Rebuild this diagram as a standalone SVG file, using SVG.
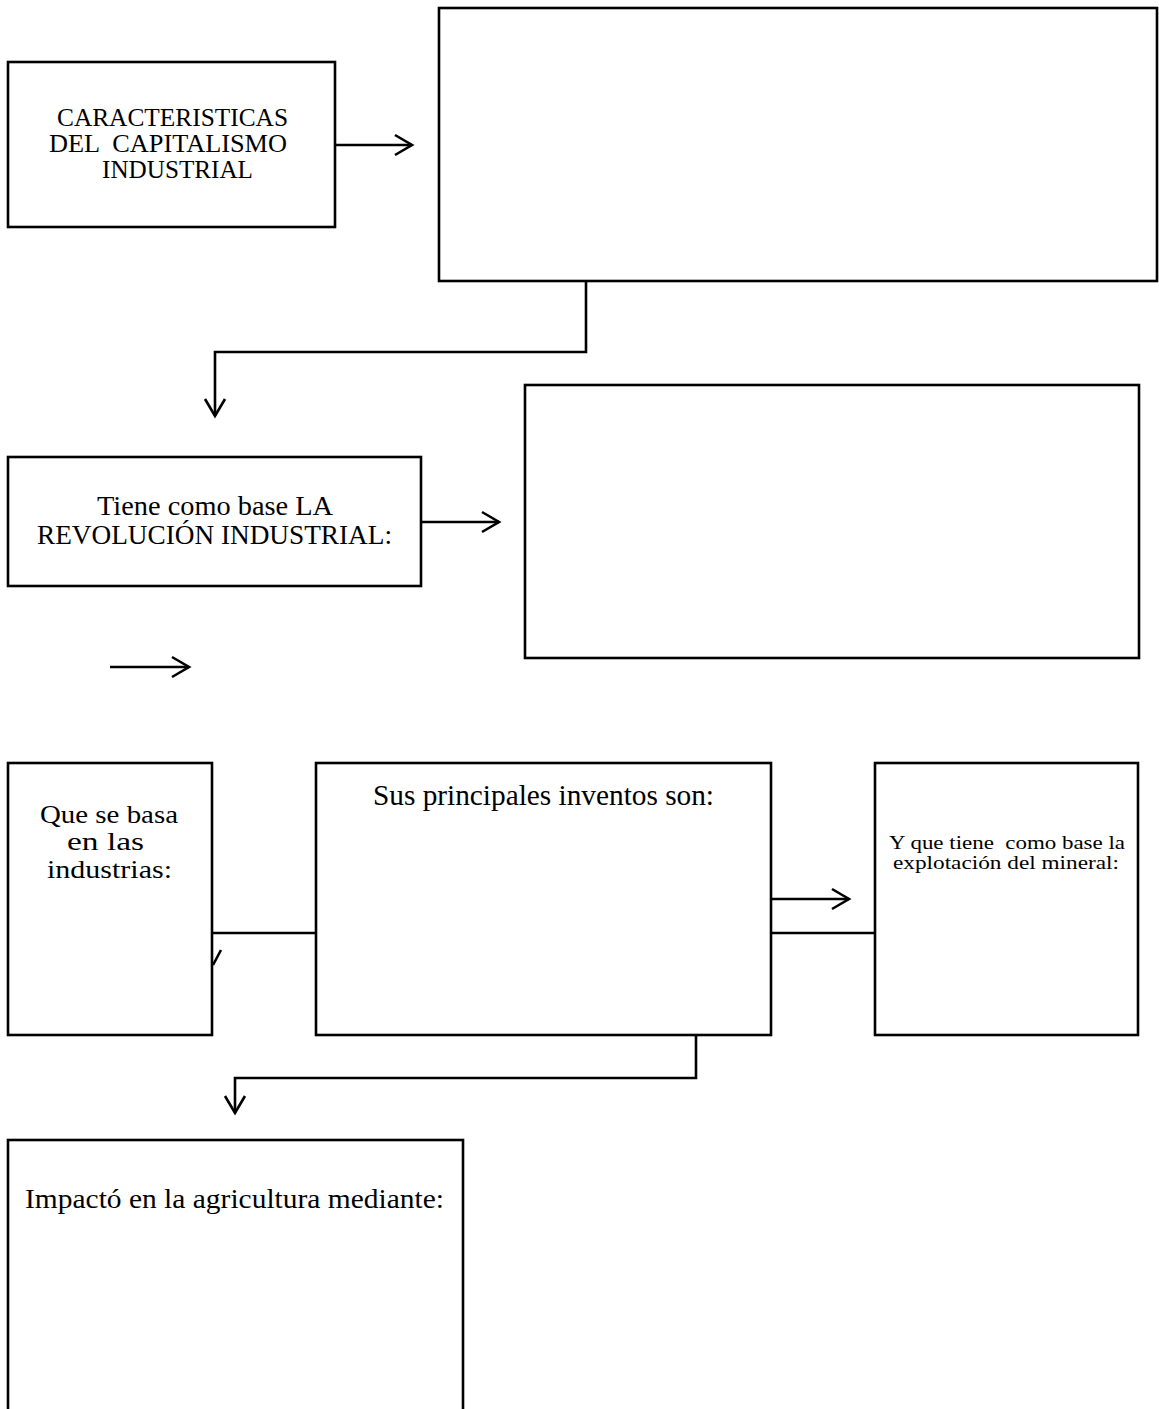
<svg xmlns="http://www.w3.org/2000/svg" width="1159" height="1409" viewBox="0 0 1159 1409">
<style>
.box{fill:#fff;stroke:#000;stroke-width:2.6}
.c{fill:none;stroke:#000;stroke-width:2.6}
text{fill:#000}
</style>
<defs>
<marker id="ah" markerUnits="userSpaceOnUse" markerWidth="40" markerHeight="40" viewBox="-20 -20 40 40" refX="0" refY="0" orient="auto">
<path d="M-17,-10 L0,0 L-17,10" fill="none" stroke="#000" stroke-width="2.6"/>
</marker>
</defs>
<rect width="1159" height="1409" fill="#fff"/>
<g id="connectors">
<line class="c" x1="335" y1="145" x2="412" y2="145" marker-end="url(#ah)"/>
<path class="c" d="M586,281 V352 H215 V416" marker-end="url(#ah)"/>
<line class="c" x1="421" y1="522" x2="499" y2="522" marker-end="url(#ah)"/>
<line class="c" x1="110" y1="667" x2="189" y2="667" marker-end="url(#ah)"/>
<line class="c" x1="212" y1="933" x2="316" y2="933"/>
<line class="c" x1="213" y1="965" x2="221" y2="950"/>
<line class="c" x1="771" y1="899" x2="849" y2="899" marker-end="url(#ah)"/>
<line class="c" x1="771" y1="933" x2="875" y2="933"/>
<path class="c" d="M696,1035 V1078 H235 V1113" marker-end="url(#ah)"/>
</g>
<g id="n1" font-family="Liberation Serif, DejaVu Serif, serif">
<rect class="box" x="8" y="62" width="327" height="165"/>
<text font-size="25" x="57" y="126" textLength="231" lengthAdjust="spacingAndGlyphs">CARACTERISTICAS</text>
<text font-size="25" x="49" y="152" textLength="238" lengthAdjust="spacingAndGlyphs" xml:space="preserve">DEL  CAPITALISMO</text>
<text font-size="25" x="102" y="178" textLength="151" lengthAdjust="spacingAndGlyphs">INDUSTRIAL</text>
</g>
<g id="n2">
<rect class="box" x="439" y="8" width="718" height="273"/>
</g>
<g id="n3" font-family="Liberation Serif, DejaVu Serif, serif">
<rect class="box" x="8" y="457" width="413" height="129"/>
<text font-size="27" x="97" y="515" textLength="236" lengthAdjust="spacingAndGlyphs">Tiene como base LA</text>
<text font-size="27" x="37" y="544" textLength="355" lengthAdjust="spacingAndGlyphs">REVOLUCIÓN INDUSTRIAL:</text>
</g>
<g id="n4">
<rect class="box" x="525" y="385" width="614" height="273"/>
</g>
<g id="n5" font-family="Liberation Serif, DejaVu Serif, serif">
<rect class="box" x="8" y="763" width="204" height="272"/>
<text font-size="26" x="40" y="823" textLength="138" lengthAdjust="spacingAndGlyphs">Que se basa</text>
<text font-size="26" x="67" y="850" textLength="77" lengthAdjust="spacingAndGlyphs">en las</text>
<text font-size="26" x="47" y="878" textLength="125" lengthAdjust="spacingAndGlyphs">industrias:</text>
</g>
<g id="n6" font-family="Liberation Serif, DejaVu Serif, serif">
<rect class="box" x="316" y="763" width="455" height="272"/>
<text font-size="29" x="373" y="805" textLength="341" lengthAdjust="spacingAndGlyphs">Sus principales inventos son:</text>
</g>
<g id="n7" font-family="Liberation Serif, DejaVu Serif, serif">
<rect class="box" x="875" y="763" width="263" height="272"/>
<text font-size="19" x="889" y="849" textLength="236" lengthAdjust="spacingAndGlyphs" xml:space="preserve">Y que tiene  como base la</text>
<text font-size="19" x="893" y="869" textLength="226" lengthAdjust="spacingAndGlyphs">explotación del mineral:</text>
</g>
<g id="n8" font-family="Liberation Serif, DejaVu Serif, serif">
<rect class="box" x="8" y="1140" width="455" height="300"/>
<text font-size="28" x="25" y="1208" textLength="419" lengthAdjust="spacingAndGlyphs">Impactó en la agricultura mediante:</text>
</g>
</svg>
